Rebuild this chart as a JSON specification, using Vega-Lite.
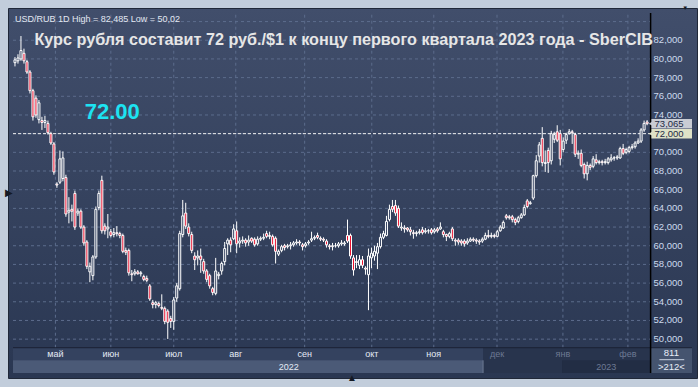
{
  "$schema": "https://vega.github.io/schema/vega-lite/v6.json",
  "width": 689,
  "height": 370,
  "autosize": {"type": "none"},
  "padding": {"left": 8, "top": 8, "right": 1, "bottom": 9},
  "background": "#c2cddb",
  "config": {
    "view": {
      "fill": {"gradient": "linear", "x1": 0, "y1": 0, "x2": 0, "y2": 1, "stops": [{"offset": 0, "color": "#414e6b"}, {"offset": 1, "color": "#2a3752"}]},
      "stroke": "#202838"
    },
    "text": {"font": "Liberation Sans"}
  },
  "datasets": {
    "k": [
      {"i":0,"o":79.6,"h":80.2,"l":79.2,"c":79.9},{"i":1,"o":79.8,"h":80.5,"l":79.5,"c":80.1},{"i":2,"o":80.0,"h":82.45,"l":79.8,"c":80.9},{"i":3,"o":80.6,"h":81.1,"l":79.5,"c":79.8},{"i":4,"o":79.7,"h":79.9,"l":78.4,"c":78.6},
      {"i":5,"o":78.6,"h":78.8,"l":76.3,"c":76.6},{"i":6,"o":76.6,"h":76.8,"l":73.4,"c":73.8},{"i":7,"o":75.8,"h":76.1,"l":73.7,"c":74.0},{"i":8,"o":73.5,"h":75.6,"l":73.1,"c":75.3},{"i":9,"o":73.4,"h":73.8,"l":72.4,"c":73.2},
      {"i":10,"o":73.2,"h":73.9,"l":72.6,"c":73.4},{"i":11,"o":73.1,"h":73.4,"l":71.9,"c":72.1},{"i":12,"o":72.0,"h":72.2,"l":70.8,"c":71.0},{"i":13,"o":70.9,"h":71.1,"l":67.6,"c":67.9},{"i":14,"o":66.6,"h":66.8,"l":66.2,"c":66.5},
      {"i":15,"o":66.8,"h":70.2,"l":66.6,"c":69.3},{"i":16,"o":67.2,"h":70.1,"l":66.9,"c":69.4},{"i":17,"o":67.3,"h":67.6,"l":63.1,"c":63.4},{"i":18,"o":63.6,"h":65.2,"l":62.4,"c":63.8},{"i":19,"o":63.9,"h":64.4,"l":62.6,"c":63.7},
      {"i":20,"o":65.6,"h":65.9,"l":61.7,"c":62.0},{"i":21,"o":63.5,"h":64.0,"l":63.2,"c":63.7},{"i":22,"o":63.7,"h":63.9,"l":61.8,"c":62.0},{"i":23,"o":62.0,"h":62.2,"l":60.0,"c":60.3},{"i":24,"o":60.4,"h":60.6,"l":57.5,"c":57.8},
      {"i":25,"o":57.2,"h":58.2,"l":56.1,"c":57.8},{"i":26,"o":56.8,"h":59.0,"l":56.3,"c":58.8},{"i":27,"o":58.8,"h":64.2,"l":58.6,"c":63.9},{"i":28,"o":64.1,"h":65.9,"l":63.8,"c":65.6},{"i":29,"o":67.0,"h":67.5,"l":61.3,"c":61.6},
      {"i":30,"o":62.1,"h":62.4,"l":61.2,"c":61.6},{"i":31,"o":61.8,"h":63.4,"l":60.8,"c":62.0},{"i":32,"o":61.5,"h":61.8,"l":60.9,"c":61.1},{"i":33,"o":61.2,"h":61.9,"l":60.9,"c":61.4},{"i":34,"o":61.4,"h":62.1,"l":61.0,"c":61.3},
      {"i":35,"o":61.3,"h":61.5,"l":60.8,"c":61.1},{"i":36,"o":61.1,"h":61.3,"l":59.2,"c":59.4},{"i":37,"o":59.5,"h":59.8,"l":59.0,"c":59.3},{"i":38,"o":59.5,"h":59.7,"l":56.8,"c":57.1},{"i":39,"o":57.0,"h":57.4,"l":56.2,"c":56.9},
      {"i":40,"o":57.0,"h":57.5,"l":56.8,"c":57.2},{"i":41,"o":57.2,"h":57.4,"l":56.9,"c":57.0},{"i":42,"o":57.0,"h":57.3,"l":56.7,"c":57.1},{"i":43,"o":56.7,"h":56.9,"l":56.2,"c":56.4},{"i":44,"o":56.5,"h":56.8,"l":56.1,"c":56.3},
      {"i":45,"o":55.7,"h":55.9,"l":54.1,"c":54.3},{"i":46,"o":53.9,"h":54.2,"l":53.3,"c":53.7},{"i":47,"o":53.7,"h":54.1,"l":53.3,"c":53.9},{"i":48,"o":53.8,"h":54.0,"l":53.4,"c":53.6},{"i":49,"o":53.4,"h":54.8,"l":53.1,"c":53.3},
      {"i":50,"o":53.3,"h":53.5,"l":51.6,"c":51.9},{"i":51,"o":53.0,"h":53.2,"l":50.02,"c":51.8},{"i":52,"o":52.2,"h":52.5,"l":51.2,"c":51.9},{"i":53,"o":51.9,"h":54.5,"l":51.0,"c":54.2},{"i":54,"o":54.4,"h":56.0,"l":54.0,"c":55.7},
      {"i":55,"o":55.4,"h":61.6,"l":55.2,"c":61.3},{"i":56,"o":61.2,"h":64.9,"l":60.9,"c":63.2},{"i":57,"o":63.5,"h":64.6,"l":61.8,"c":62.1},{"i":58,"o":62.0,"h":62.4,"l":61.0,"c":61.3},{"i":59,"o":61.2,"h":61.5,"l":59.2,"c":59.5},
      {"i":60,"o":58.9,"h":59.3,"l":57.4,"c":58.5},{"i":61,"o":58.7,"h":59.5,"l":57.9,"c":58.9},{"i":62,"o":58.9,"h":59.7,"l":57.1,"c":58.5},{"i":63,"o":58.3,"h":58.6,"l":57.0,"c":57.3},{"i":64,"o":57.3,"h":57.5,"l":56.1,"c":56.4},
      {"i":65,"o":56.8,"h":57.0,"l":55.4,"c":55.7},{"i":66,"o":55.4,"h":55.6,"l":54.7,"c":55.0},{"i":67,"o":54.9,"h":58.7,"l":54.7,"c":57.3},{"i":68,"o":56.8,"h":57.2,"l":56.4,"c":56.95},{"i":69,"o":57.3,"h":58.3,"l":56.9,"c":58.1},
      {"i":70,"o":58.3,"h":60.4,"l":57.9,"c":59.7},{"i":71,"o":60.2,"h":60.8,"l":59.0,"c":60.6},{"i":72,"o":60.6,"h":60.9,"l":59.3,"c":60.1},{"i":73,"o":60.75,"h":62.3,"l":60.6,"c":61.8},{"i":74,"o":61.6,"h":62.6,"l":59.2,"c":60.2},
      {"i":75,"o":60.3,"h":60.9,"l":59.8,"c":60.5},{"i":76,"o":60.5,"h":61.0,"l":60.2,"c":60.6},{"i":77,"o":60.6,"h":60.8,"l":59.9,"c":60.3},{"i":78,"o":60.4,"h":61.1,"l":60.0,"c":60.6},{"i":79,"o":60.8,"h":60.9,"l":60.3,"c":60.5},
      {"i":80,"o":60.7,"h":60.9,"l":59.9,"c":60.1},{"i":81,"o":60.2,"h":61.0,"l":60.0,"c":60.7},{"i":82,"o":60.7,"h":61.0,"l":60.5,"c":60.8},{"i":83,"o":60.8,"h":61.3,"l":60.6,"c":60.9},{"i":84,"o":61.3,"h":61.6,"l":60.8,"c":61.0},
      {"i":85,"o":61.0,"h":61.5,"l":60.7,"c":61.1},{"i":86,"o":61.0,"h":61.2,"l":59.9,"c":60.1},{"i":87,"o":60.8,"h":61.0,"l":58.1,"c":59.4},{"i":88,"o":59.1,"h":59.6,"l":58.9,"c":59.4},{"i":89,"o":59.5,"h":60.1,"l":59.3,"c":59.9},
      {"i":90,"o":60.0,"h":60.2,"l":59.5,"c":59.8},{"i":91,"o":59.9,"h":60.2,"l":59.7,"c":60.0},{"i":92,"o":60.0,"h":60.4,"l":59.6,"c":60.1},{"i":93,"o":60.1,"h":60.5,"l":59.9,"c":60.3},{"i":94,"o":60.3,"h":60.7,"l":60.1,"c":60.4},
      {"i":95,"o":60.4,"h":60.6,"l":60.0,"c":60.3},{"i":96,"o":60.1,"h":60.3,"l":59.5,"c":59.9},{"i":97,"o":60.0,"h":60.4,"l":59.8,"c":60.2},{"i":98,"o":60.3,"h":60.6,"l":60.1,"c":60.4},{"i":99,"o":60.6,"h":61.5,"l":60.4,"c":60.75},
      {"i":100,"o":60.8,"h":61.1,"l":60.6,"c":60.9},{"i":101,"o":61.1,"h":61.4,"l":60.7,"c":60.9},{"i":102,"o":60.8,"h":61.0,"l":60.5,"c":60.7},{"i":103,"o":60.7,"h":60.9,"l":60.4,"c":60.6},{"i":104,"o":60.5,"h":60.7,"l":59.8,"c":60.1},
      {"i":105,"o":60.0,"h":60.2,"l":59.6,"c":59.9},{"i":106,"o":59.9,"h":60.3,"l":59.5,"c":60.0},{"i":107,"o":60.0,"h":60.3,"l":59.8,"c":60.0},{"i":108,"o":60.0,"h":60.4,"l":59.8,"c":60.2},{"i":109,"o":60.2,"h":60.6,"l":60.0,"c":60.3},
      {"i":110,"o":60.2,"h":60.5,"l":60.0,"c":60.3},{"i":111,"o":61.1,"h":62.8,"l":60.3,"c":60.5},{"i":112,"o":61.1,"h":61.3,"l":58.6,"c":58.9},{"i":113,"o":58.7,"h":59.0,"l":56.8,"c":57.4},{"i":114,"o":58.3,"h":59.0,"l":57.6,"c":58.2},
      {"i":115,"o":57.9,"h":59.0,"l":57.5,"c":58.5},{"i":116,"o":58.5,"h":58.9,"l":57.6,"c":57.9},{"i":117,"o":57.6,"h":57.8,"l":56.9,"c":57.5},{"i":118,"o":56.9,"h":59.7,"l":53.1,"c":58.9},{"i":119,"o":58.7,"h":59.8,"l":57.6,"c":59.2},
      {"i":120,"o":58.9,"h":60.0,"l":58.4,"c":59.4},{"i":121,"o":59.2,"h":60.3,"l":57.5,"c":59.9},{"i":122,"o":59.9,"h":61.3,"l":59.7,"c":60.9},{"i":123,"o":60.9,"h":61.6,"l":60.7,"c":61.3},{"i":124,"o":61.1,"h":63.2,"l":61.0,"c":62.6},
      {"i":125,"o":62.8,"h":64.4,"l":62.6,"c":63.9},{"i":126,"o":64.2,"h":64.9,"l":63.6,"c":63.9},{"i":127,"o":64.3,"h":64.9,"l":63.2,"c":63.5},{"i":128,"o":64.0,"h":64.3,"l":61.9,"c":62.1},{"i":129,"o":61.9,"h":62.5,"l":61.6,"c":62.0},
      {"i":130,"o":61.9,"h":62.2,"l":61.4,"c":61.8},{"i":131,"o":61.9,"h":62.0,"l":61.5,"c":61.7},{"i":132,"o":61.7,"h":62.0,"l":61.1,"c":61.5},{"i":133,"o":61.4,"h":61.7,"l":60.75,"c":61.3},{"i":134,"o":61.3,"h":61.6,"l":61.0,"c":61.4},
      {"i":135,"o":61.4,"h":61.8,"l":61.2,"c":61.5},{"i":136,"o":61.7,"h":62.0,"l":61.2,"c":61.4},{"i":137,"o":61.5,"h":61.9,"l":61.3,"c":61.6},{"i":138,"o":61.6,"h":61.8,"l":61.3,"c":61.6},{"i":139,"o":61.7,"h":61.9,"l":61.2,"c":61.4},
      {"i":140,"o":61.5,"h":61.9,"l":61.3,"c":61.7},{"i":141,"o":61.8,"h":62.0,"l":61.4,"c":61.6},{"i":142,"o":61.8,"h":62.5,"l":61.7,"c":62.0},{"i":143,"o":61.5,"h":61.7,"l":60.9,"c":61.2},{"i":144,"o":61.2,"h":61.3,"l":60.5,"c":61.0},
      {"i":145,"o":61.0,"h":61.5,"l":60.8,"c":61.3},{"i":146,"o":61.8,"h":62.0,"l":60.5,"c":60.75},{"i":147,"o":60.6,"h":60.8,"l":60.0,"c":60.5},{"i":148,"o":60.6,"h":60.8,"l":60.1,"c":60.4},{"i":149,"o":60.5,"h":60.7,"l":60.0,"c":60.3},
      {"i":150,"o":60.5,"h":60.7,"l":59.9,"c":60.2},{"i":151,"o":60.3,"h":60.8,"l":60.1,"c":60.5},{"i":152,"o":60.5,"h":60.9,"l":60.4,"c":60.7},{"i":153,"o":60.7,"h":60.9,"l":60.4,"c":60.6},{"i":154,"o":60.6,"h":60.8,"l":60.2,"c":60.5},
      {"i":155,"o":60.5,"h":60.7,"l":60.1,"c":60.4},{"i":156,"o":60.5,"h":60.9,"l":60.3,"c":60.7},{"i":157,"o":60.7,"h":61.4,"l":60.6,"c":61.1},{"i":158,"o":61.1,"h":61.7,"l":60.8,"c":61.0},{"i":159,"o":61.0,"h":61.4,"l":60.8,"c":61.1},
      {"i":160,"o":61.1,"h":61.3,"l":60.8,"c":61.0},{"i":161,"o":61.0,"h":61.7,"l":60.9,"c":61.5},{"i":162,"o":61.6,"h":62.2,"l":61.5,"c":62.0},{"i":163,"o":61.9,"h":62.7,"l":61.8,"c":62.5},{"i":164,"o":63.2,"h":63.4,"l":62.8,"c":63.0},
      {"i":165,"o":63.1,"h":63.3,"l":62.8,"c":63.0},{"i":166,"o":63.1,"h":63.3,"l":62.5,"c":62.8},{"i":167,"o":62.8,"h":63.0,"l":62.2,"c":62.5},{"i":168,"o":62.6,"h":63.2,"l":62.4,"c":63.0},{"i":169,"o":63.0,"h":63.5,"l":62.9,"c":63.3},
      {"i":170,"o":63.3,"h":64.4,"l":63.2,"c":64.1},{"i":171,"o":64.8,"h":65.0,"l":64.0,"c":64.2},{"i":172,"o":64.5,"h":64.8,"l":64.4,"c":64.6},{"i":173,"o":65.1,"h":67.6,"l":64.9,"c":67.5},{"i":174,"o":67.5,"h":69.7,"l":67.3,"c":69.1},
      {"i":175,"o":69.6,"h":71.1,"l":68.9,"c":70.8},{"i":176,"o":71.5,"h":72.7,"l":68.5,"c":68.9},{"i":177,"o":68.8,"h":70.2,"l":67.9,"c":68.9},{"i":178,"o":70.2,"h":70.5,"l":67.8,"c":68.9},{"i":179,"o":69.1,"h":72.3,"l":68.7,"c":72.0},
      {"i":180,"o":71.4,"h":72.2,"l":71.0,"c":71.9},{"i":181,"o":72.2,"h":72.9,"l":71.1,"c":71.3},{"i":182,"o":72.0,"h":72.4,"l":68.6,"c":69.3},{"i":183,"o":70.3,"h":71.6,"l":70.0,"c":71.2},{"i":184,"o":71.3,"h":72.1,"l":70.9,"c":71.9},
      {"i":185,"o":72.0,"h":72.5,"l":71.9,"c":72.2},{"i":186,"o":72.2,"h":72.4,"l":70.9,"c":72.1},{"i":187,"o":71.9,"h":72.1,"l":69.5,"c":69.8},{"i":188,"o":69.8,"h":70.2,"l":69.3,"c":69.9},{"i":189,"o":69.9,"h":70.3,"l":68.4,"c":68.6},
      {"i":190,"o":68.7,"h":68.9,"l":67.2,"c":67.7},{"i":191,"o":67.7,"h":69.0,"l":67.0,"c":68.6},{"i":192,"o":68.6,"h":68.8,"l":68.1,"c":68.4},{"i":193,"o":68.5,"h":69.6,"l":68.3,"c":69.3},{"i":194,"o":69.2,"h":69.8,"l":68.7,"c":68.9},
      {"i":195,"o":68.9,"h":69.2,"l":68.7,"c":69.0},{"i":196,"o":69.0,"h":69.2,"l":68.6,"c":68.9},{"i":197,"o":68.9,"h":69.3,"l":68.7,"c":69.0},{"i":198,"o":68.9,"h":69.5,"l":68.7,"c":69.3},{"i":199,"o":69.2,"h":69.8,"l":69.0,"c":69.4},
      {"i":200,"o":69.4,"h":69.6,"l":69.1,"c":69.4},{"i":201,"o":69.4,"h":69.7,"l":69.2,"c":69.5},{"i":202,"o":69.4,"h":70.6,"l":69.3,"c":70.4},{"i":203,"o":70.4,"h":70.9,"l":69.7,"c":69.9},{"i":204,"o":70.0,"h":70.5,"l":69.8,"c":70.3},
      {"i":205,"o":70.1,"h":70.7,"l":69.9,"c":70.5},{"i":206,"o":70.5,"h":70.9,"l":70.3,"c":70.6},{"i":207,"o":70.6,"h":71.2,"l":70.4,"c":71.0},{"i":208,"o":71.0,"h":71.5,"l":70.9,"c":71.2},{"i":209,"o":71.2,"h":72.6,"l":71.0,"c":72.4},
      {"i":210,"o":72.4,"h":73.4,"l":72.2,"c":73.1},{"i":211,"o":73.25,"h":73.45,"l":72.9,"c":73.065}
    ],
    "hg": [
      {"p":50,"t":"50,000"},{"p":52,"t":"52,000"},{"p":54,"t":"54,000"},{"p":56,"t":"56,000"},{"p":58,"t":"58,000"},{"p":60,"t":"60,000"},
      {"p":62,"t":"62,000"},{"p":64,"t":"64,000"},{"p":66,"t":"66,000"},{"p":68,"t":"68,000"},{"p":70,"t":"70,000"},{"p":72,"t":"72,000"},
      {"p":74,"t":"74,000"},{"p":76,"t":"76,000"},{"p":78,"t":"78,000"},{"p":80,"t":"80,000"},{"p":82,"t":"82,000"},{"p":84,"t":""}
    ],
    "mon": [
      {"i":13.5,"m":"май","d":0},{"i":32.0,"m":"июн","d":0},{"i":53.0,"m":"июл","d":0},{"i":73.7,"m":"авг","d":0},{"i":96.7,"m":"сен","d":0},
      {"i":119.1,"m":"окт","d":0},{"i":139.8,"m":"ноя","d":0},{"i":160.9,"m":"дек","d":1},{"i":182.9,"m":"янв","d":1},{"i":204.6,"m":"фев","d":1}
    ],
    "yr": [{"i":91.4,"y":"2022","d":0},{"i":197.4,"y":"2023","d":1}],
    "tag": [{"p":73.065,"t":"73,065","k":"a"},{"p":72,"t":"72,000","k":"b"}],
    "one": [{}]
  },
  "layer": [
    {
      "data": {"name": "one"},
      "mark": {"type": "rect", "fill": "#34425f"},
      "encoding": {
        "x": {"datum": -0.658, "type": "quantitative", "scale": {"domain": [-0.658, 225.99], "nice": false, "zero": false}, "axis": null},
        "x2": {"datum": 212.17},
        "y": {"datum": 49.08, "type": "quantitative", "scale": {"domain": [46.375, 84.917], "nice": false, "zero": false}, "axis": null},
        "y2": {"datum": 47.73}
      }
    },
    {
      "data": {"name": "one"},
      "mark": {"type": "rect", "fill": "#4b5a77"},
      "encoding": {"x": {"datum": -0.658}, "x2": {"datum": 156.25}, "y": {"datum": 47.73}, "y2": {"datum": 46.375}}
    },
    {
      "data": {"name": "one"},
      "mark": {"type": "rect", "fill": "#28344d"},
      "encoding": {"x": {"datum": 156.25}, "x2": {"datum": 212.17}, "y": {"datum": 49.08}, "y2": {"datum": 46.375}}
    },
    {
      "data": {"name": "one"},
      "mark": {"type": "rect", "fill": "#222d44"},
      "encoding": {"x": {"datum": 182.6}, "x2": {"datum": 212.17}, "y": {"datum": 47.73}, "y2": {"datum": 46.375}}
    },
    {
      "data": {"name": "one"},
      "mark": {"type": "rect", "fill": "#45546f"},
      "encoding": {"x": {"datum": 212.17}, "x2": {"datum": 225.99}, "y": {"datum": 49.08}, "y2": {"datum": 46.375}}
    },
    {
      "data": {"name": "one"},
      "mark": {"type": "rule", "color": "#6c7a94", "strokeWidth": 1},
      "encoding": {"x": {"datum": 156.25}, "y": {"datum": 47.73}, "y2": {"datum": 46.375}}
    },
    {
      "data": {"name": "hg"},
      "mark": {"type": "rule", "color": "#5c6c8c", "strokeWidth": 1, "strokeDash": [3, 3]},
      "encoding": {"y": {"field": "p", "type": "quantitative"}, "x": {"datum": -0.658}, "x2": {"datum": 212.17}}
    },
    {
      "data": {"name": "mon"},
      "mark": {"type": "rule", "color": "#5c6c8c", "strokeWidth": 1, "strokeDash": [3, 3]},
      "encoding": {"x": {"field": "i", "type": "quantitative"}, "y": {"datum": 49.08}, "y2": {"datum": 84.917}}
    },
    {
      "data": {"name": "one"},
      "mark": {"type": "rule", "color": "#1a2132", "strokeWidth": 1},
      "encoding": {"y": {"datum": 49.08}, "x": {"datum": -0.658}, "x2": {"datum": 225.99}}
    },
    {
      "data": {"name": "one"},
      "mark": {"type": "rule", "color": "#000000", "strokeWidth": 1.5},
      "encoding": {"x": {"datum": 212.17}, "y": {"datum": 46.375}, "y2": {"datum": 84.917}}
    },
    {
      "data": {"name": "one"},
      "mark": {"type": "rule", "color": "#eeeeee", "strokeWidth": 1, "strokeDash": [3, 2]},
      "encoding": {"y": {"datum": 72}, "x": {"datum": -0.658}, "x2": {"datum": 212.17}}
    },
    {
      "data": {"name": "k"},
      "mark": {"type": "rule", "color": "#ffffff", "strokeWidth": 1},
      "encoding": {"x": {"field": "i", "type": "quantitative"}, "y": {"field": "l", "type": "quantitative"}, "y2": {"field": "h"}}
    },
    {
      "data": {"name": "k"},
      "mark": {"type": "bar", "width": 2, "stroke": "#ffffff", "strokeWidth": 1},
      "encoding": {
        "x": {"field": "i", "type": "quantitative"},
        "y": {"field": "o", "type": "quantitative"},
        "y2": {"field": "c"},
        "fill": {"condition": {"test": "datum.c < datum.o", "value": "#ea1230"}, "value": "#354260"}
      }
    },
    {
      "data": {"name": "hg"},
      "mark": {"type": "text", "align": "left", "baseline": "middle", "fontSize": 9.5, "color": "#cddaee"},
      "encoding": {"y": {"field": "p", "type": "quantitative"}, "x": {"datum": 213.16}, "text": {"field": "t"}}
    },
    {
      "data": {"name": "tag"},
      "mark": {"type": "bar", "height": 9.5},
      "encoding": {
        "y": {"field": "p", "type": "quantitative"},
        "x": {"datum": 212.45},
        "x2": {"datum": 225.99},
        "fill": {"field": "k", "type": "nominal", "scale": {"domain": ["a", "b"], "range": ["#c9ccd4", "#dfe2c7"]}, "legend": null}
      }
    },
    {
      "data": {"name": "tag"},
      "mark": {"type": "point", "shape": "triangle-left", "size": 28, "filled": true, "opacity": 1},
      "encoding": {
        "y": {"field": "p", "type": "quantitative"},
        "x": {"datum": 212.3},
        "fill": {"field": "k", "type": "nominal", "legend": null}
      }
    },
    {
      "data": {"name": "tag"},
      "mark": {"type": "text", "align": "left", "baseline": "middle", "fontSize": 9.5, "color": "#1e2a44"},
      "encoding": {"y": {"field": "p", "type": "quantitative"}, "x": {"datum": 213.5}, "text": {"field": "t"}}
    },
    {
      "data": {"name": "mon"},
      "mark": {"type": "text", "align": "center", "baseline": "middle", "fontSize": 9},
      "encoding": {
        "x": {"field": "i", "type": "quantitative"},
        "y": {"datum": 48.4},
        "text": {"field": "m"},
        "color": {"condition": {"test": "datum.d == 1", "value": "#6d7993"}, "value": "#e4ebf5"}
      }
    },
    {
      "data": {"name": "yr"},
      "mark": {"type": "text", "align": "center", "baseline": "middle", "fontSize": 9},
      "encoding": {
        "x": {"field": "i", "type": "quantitative"},
        "y": {"datum": 47.05},
        "text": {"field": "y"},
        "color": {"condition": {"test": "datum.d == 1", "value": "#6d7993"}, "value": "#e4ebf5"}
      }
    },
    {
      "data": {"name": "one"},
      "mark": {"type": "text", "align": "center", "baseline": "middle", "fontSize": 9.5, "color": "#e8eef8", "text": "811"},
      "encoding": {"x": {"datum": 219.1}, "y": {"datum": 48.51}}
    },
    {
      "data": {"name": "one"},
      "mark": {"type": "rule", "color": "#c8d2e2", "strokeWidth": 1},
      "encoding": {"y": {"datum": 47.8}, "x": {"datum": 215.1}, "x2": {"datum": 223.4}}
    },
    {
      "data": {"name": "one"},
      "mark": {"type": "text", "align": "center", "baseline": "middle", "fontSize": 9.5, "color": "#e8eef8", "text": ">212<"},
      "encoding": {"x": {"datum": 219.1}, "y": {"datum": 46.99}}
    },
    {
      "data": {"name": "one"},
      "mark": {"type": "text", "align": "left", "baseline": "alphabetic", "fontSize": 9, "color": "#e2e8f2", "text": "USD/RUB 1D High = 82,485 Low = 50,02"},
      "encoding": {"x": {"datum": 0.0}, "y": {"datum": 83.95}}
    },
    {
      "data": {"name": "one"},
      "mark": {"type": "text", "align": "center", "baseline": "alphabetic", "fontSize": 16.2, "fontWeight": "bold", "color": "#e6e6e6", "text": "Курс рубля составит 72 руб./$1 к концу первого квартала 2023 года - SberCIB"},
      "encoding": {"x": {"datum": 109.7}, "y": {"datum": 81.51}}
    },
    {
      "data": {"name": "one"},
      "mark": {"type": "text", "align": "left", "baseline": "alphabetic", "fontSize": 22, "fontWeight": "bold", "color": "#1de3f2", "text": "72.00"},
      "encoding": {"x": {"datum": 23.3}, "y": {"datum": 73.53}}
    },
    {
      "data": {"name": "one"},
      "mark": {"type": "text", "align": "center", "baseline": "middle", "fontSize": 10, "color": "#151a24", "text": "▶"},
      "encoding": {"x": {"datum": -1.97}, "y": {"datum": 65.65}}
    },
    {
      "data": {"name": "one"},
      "mark": {"type": "text", "align": "center", "baseline": "middle", "fontSize": 10, "color": "#151a24", "text": "▲"},
      "encoding": {"x": {"datum": 112.5}, "y": {"datum": 45.86}}
    },
    {
      "data": {"name": "one"},
      "mark": {"type": "text", "align": "center", "baseline": "middle", "fontSize": 6, "color": "#151a24", "text": "▼"},
      "encoding": {"x": {"datum": 223.7}, "y": {"datum": 85.44}}
    }
  ]
}
